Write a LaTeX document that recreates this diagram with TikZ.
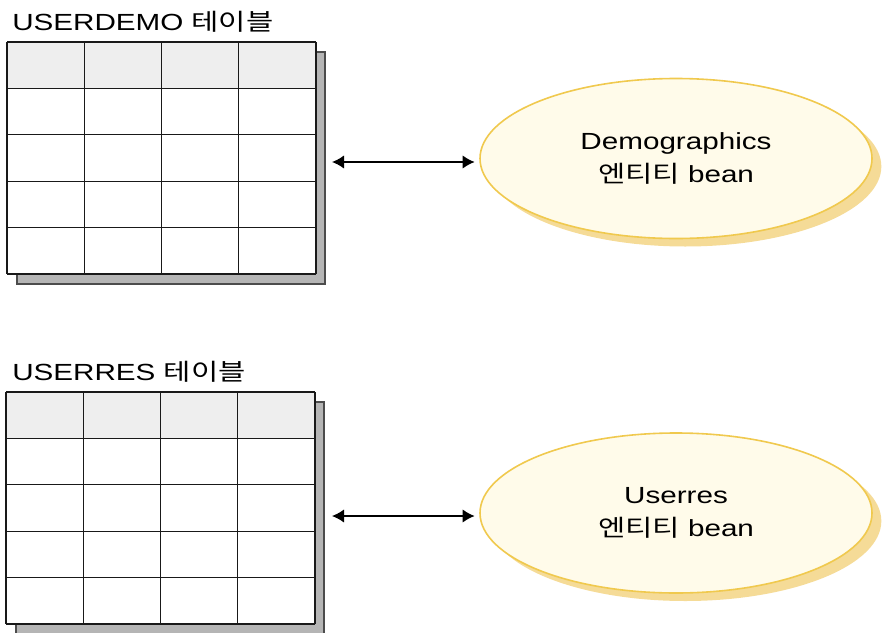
\documentclass[tikz,border=0pt]{standalone}
\usepackage{fontspec}
\setmainfont{Liberation Sans}[FakeStretch=1.27]
\newfontfamily\kr{Noto Sans CJK KR}[FakeStretch=1.27]
\usepackage{tikz}
\usetikzlibrary{arrows.meta,shapes.geometric,shadows}
\tikzset{>={Latex[length=9pt,width=10pt]}}
\usepackage{xcolor}
\definecolor{beanfill}{HTML}{FFFBEA}
\definecolor{beanline}{HTML}{F0C94E}
\definecolor{beanshade}{HTML}{F5DB97}
\definecolor{headfill}{HTML}{EEEEEE}
\definecolor{tabshade}{HTML}{B5B5B5}
\tikzstyle{bean}=[ellipse,draw=beanline,fill=beanfill,line width=1.2pt,minimum width=294pt,minimum height=120pt,inner sep=0,outer sep=4pt,align=center,font=\fontsize{17.5}{25}\selectfont,general shadow={fill=beanshade,shadow xshift=7pt,shadow yshift=-6pt}]
\tikzstyle{tablabel}=[anchor=base west,inner sep=0,font=\fontsize{17.5}{20}\selectfont]
\tikzstyle{link}=[<->,line width=1.1pt]

\begin{document}
\begin{tikzpicture}[x=0.75pt,y=-0.75pt]
	\useasboundingbox (0,0) rectangle (885,632);
	% tables
	\foreach \tx/\ty in {7/42,6/392} {
		\fill[tabshade,draw=black!70,line width=0.8pt] (\tx+10,\ty+10) rectangle (\tx+318,\ty+242);
		\fill[headfill] (\tx,\ty) rectangle (\tx+309,\ty+46.4);
		\fill[white] (\tx,\ty+46.4) rectangle (\tx+309,\ty+232);
		\foreach \i in {0,...,4}
			\draw[line width=0.9pt,black!90] (\tx+\i*77.25,\ty) -- ++(0,232);
		\foreach \j in {0,...,5}
			\draw[line width=0.9pt,black!90] (\tx,\ty+\j*46.4) -- ++(309,0);
	}
	\node[tablabel] (demolabel) at (12,30) {USERDEMO {\kr 테이블}};
	\node[tablabel] (reslabel) at (12,380) {USERRES {\kr 테이블}};

	% beans
	\node[bean] (demobean) at (676,158.5) {Demographics\\{\kr 엔티티} bean};
	\node[bean] (resbean) at (676,513) {Userres\\{\kr 엔티티} bean};

	\coordinate (demoend) at (332,162);
	\coordinate (resend) at (332,516);
	\draw[link] (demoend) -- (demoend -| demobean.west);
	\draw[link] (resend) -- (resend -| resbean.west);
\end{tikzpicture}
\end{document}
